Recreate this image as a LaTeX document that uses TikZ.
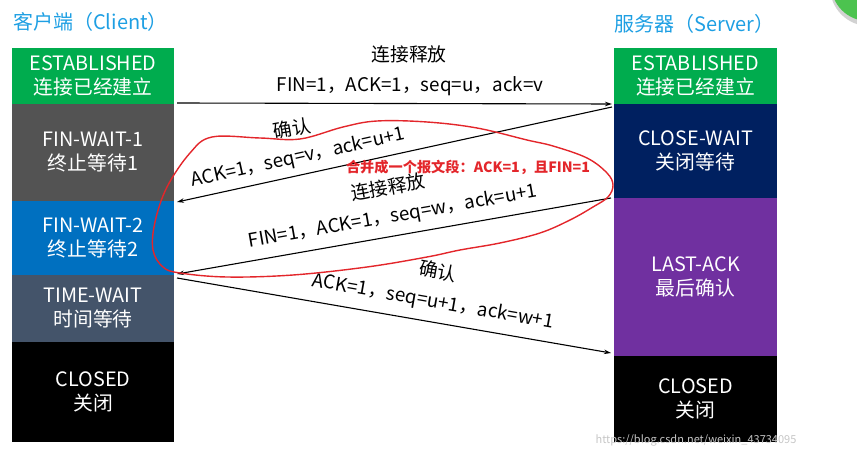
\documentclass[tikz,border=0pt]{standalone}
\usepackage{fontspec}
\setmainfont{Noto Sans CJK SC}
\usetikzlibrary{arrows.meta}
\definecolor{cgreen}{HTML}{00AC4E}
\definecolor{cgray}{HTML}{535353}
\definecolor{cblue}{HTML}{0070C0}
\definecolor{cslate}{HTML}{44546A}
\definecolor{cnavy}{HTML}{002060}
\definecolor{cpurple}{HTML}{7030A0}
\definecolor{ctitle}{HTML}{1E9FE3}
\definecolor{cred}{HTML}{E3262B}
\definecolor{cbtn}{HTML}{4CC34F}
\begin{document}
\begin{tikzpicture}[x=1pt,y=-1pt,
  box/.style={inner sep=0pt, minimum width=162pt, text=white, align=center,
    font=\fontsize{19.8}{24}\selectfont},
  msg/.style={-{Stealth[length=7pt,width=4.5pt]}, line width=1.1pt},
  lbl/.style={font=\fontsize{18.8}{20}\selectfont, inner sep=0pt},
  ttl/.style={font=\fontsize{20}{22}\selectfont, text=ctitle, inner sep=0pt}]
\useasboundingbox (0,0) rectangle (857,449);
% top-right button
\fill[gray!35] (869,-13) circle (39);
\fill[cbtn] (868,-16) circle (37);
% titles
\node[ttl, anchor=west] (tc) at (13,22) {客户端（Client）};
\node[ttl, anchor=west] (ts) at (614,24) {服务器（Server）};
% client boxes
\node[box, fill=cgreen, minimum height=56pt] (c1) at (93,76) {ESTABLISHED\\连接已经建立};
\node[box, fill=cgray, minimum height=97pt] (c2) at (93,152.5) {FIN-WAIT-1\\终止等待1};
\node[box, fill=cblue, minimum height=74pt] (c3) at (93,238) {FIN-WAIT-2\\终止等待2};
\node[box, fill=cslate, minimum height=67pt] (c4) at (93,308.5) {TIME-WAIT\\时间等待};
\node[box, fill=black, minimum height=100pt] (c5) at (93,392) {CLOSED\\关闭};
% server boxes
\node[box, fill=cgreen, minimum width=163pt, minimum height=56pt] (s1) at (695.5,76) {ESTABLISHED\\连接已经建立};
\node[box, fill=cnavy, minimum width=163pt, minimum height=94pt] (s2) at (695.5,151) {CLOSE-WAIT\\关闭等待};
\node[box, fill=cpurple, minimum width=163pt, minimum height=158pt] (s3) at (695.5,277) {LAST-ACK\\最后确认};
\node[box, fill=black, minimum width=163pt, minimum height=86pt] (s4) at (695.5,399) {CLOSED\\关闭};
% arrow end points
\coordinate (a1s) at (177,103);
\coordinate (a1e) at (612,104);
\coordinate (a2s) at (612,107);
\coordinate (a2e) at (177,202);
\coordinate (a3s) at (611,198);
\coordinate (a3e) at (177,274);
\coordinate (a4s) at (177,278);
\coordinate (a4e) at (611,353);
\draw[msg] (a1s) -- (a1e);
\draw[msg] (a2s) -- (a2e);
\draw[msg] (a3s) -- (a3e);
\draw[msg] (a4s) -- (a4e);
% labels
\node[lbl] (l1) at (409,54) {连接释放};
\node[lbl] (l2) at (410,86) {FIN=1，ACK=1，seq=u，ack=v};
\node[lbl, rotate=10] (l3) at (292,128) {确认};
\node[lbl, rotate=12.5] (l4) at (298,158) {ACK=1，seq=v，ack=u+1};
\node[lbl, rotate=10] (l5) at (388,187) {连接释放};
\node[lbl, rotate=10] (l6) at (393,217) {FIN=1，ACK=1，seq=w，ack=u+1};
\node[lbl, rotate=-10] (l7) at (438,271) {确认};
\node[lbl, rotate=-10] (l8) at (433,302) {ACK=1，seq=u+1，ack=w+1};
% red annotation
\draw[cred, line width=1.4pt] plot[smooth cycle, tension=0.6] coordinates {
  (212,137) (260,138) (300,139) (343,127) (377,121) (427,122) (477,128)
  (527,140) (553,146) (587,158) (607,173) (613,185) (608,197) (593,207)
  (570,220) (540,233) (500,243) (460,250) (427,257) (367,267) (293,275)
  (227,277) (180,273) (163,267) (153,250) (155,222) (167,187) (190,153)};
\node[font=\bfseries\fontsize{14.2}{15}\selectfont, text=cred, inner sep=0pt] (rt) at (468,167) {合并成一个报文段：ACK=1，且FIN=1};
% watermark
\node[font=\fontsize{11}{12}\selectfont, text=gray!45, inner sep=0pt] (wm) at (696,440) {https://blog.csdn.net/weixin\_43734095};
\end{tikzpicture}
\end{document}
